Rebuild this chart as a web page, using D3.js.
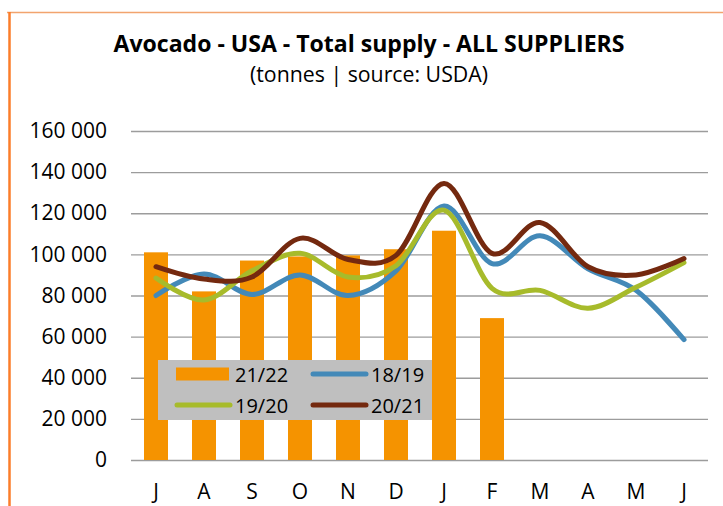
<!DOCTYPE html>
<html>
<head>
<meta charset="utf-8">
<script src="https://cdn.jsdelivr.net/npm/d3@7"></script>
<style>
  html, body { margin: 0; padding: 0; background: #fff; }
  svg { display: block; font-family: "Open Sans", "Liberation Sans", sans-serif; }
</style>
</head>
<body>
<svg id="chart" width="723" height="506"></svg>
<script>
// ---- data ----
const months = ["J", "A", "S", "O", "N", "D", "J", "F", "M", "A", "M", "J"];
const yTicks = [0, 20000, 40000, 60000, 80000, 100000, 120000, 140000, 160000];
const s2122 = [101000, 82000, 97000, 99000, 99500, 102500, 111500, 69000];
const s1819 = [80000, 90500, 80500, 90000, 80000, 92000, 123500, 95500, 109000, 93000, 82500, 58500];
const s1920 = [88500, 77800, 92000, 100500, 89000, 94500, 121500, 83500, 82500, 73800, 84000, 96000];
const s2021 = [94000, 88000, 89000, 107800, 97500, 99500, 134500, 100500, 115500, 94000, 90000, 98000];
const seriesNames = ["21/22", "18/19", "19/20", "20/21"];

const colors = { "21/22": "#F59300", "18/19": "#4389B8", "19/20": "#A7BB2B", "20/21": "#74290F" };

const svg = d3.select("#chart");

// frame
svg.append("line").attr("x1", 7).attr("x2", 723).attr("y1", 12.5).attr("y2", 12.5)
  .attr("stroke", "#F2A46E").attr("stroke-width", 1.5);
svg.append("line").attr("x1", 9.5).attr("x2", 9.5).attr("y1", 12).attr("y2", 506)
  .attr("stroke", "#FB7D2A").attr("stroke-width", 2.5);

// titles
svg.append("text").attr("x", 369).attr("y", 52).attr("text-anchor", "middle")
  .attr("font-size", 24).attr("font-weight", "bold").attr("fill", "#000")
  .attr("textLength", 511).attr("lengthAdjust", "spacingAndGlyphs")
  .text("Avocado - USA - Total supply - ALL SUPPLIERS");
svg.append("text").attr("x", 369).attr("y", 81.5).attr("text-anchor", "middle")
  .attr("font-size", 21).attr("fill", "#000")
  .attr("textLength", 238).attr("lengthAdjust", "spacingAndGlyphs")
  .text("(tonnes | source: USDA)");

// scales
const x = d3.scaleBand().domain(d3.range(months.length)).range([132, 708])
  .paddingInner(0.5).paddingOuter(0.25);
const cx = i => x(i) + x.bandwidth() / 2;
const y = d3.scaleLinear().domain([0, 160000]).range([460, 131]);

// y axis with gridlines
const fmt = v => d3.format(",")(v).replace(/,/g, " ");
const yAxis = svg.append("g").attr("transform", "translate(131,0)")
  .call(d3.axisLeft(y).tickValues(yTicks).tickSize(-577).tickPadding(24).tickFormat(fmt));
yAxis.select(".domain").remove();
yAxis.selectAll(".tick line").attr("stroke", "#9c9c9c").attr("stroke-width", 1.3);
yAxis.selectAll(".tick text").attr("font-size", 21).attr("fill", "#000")
  .attr("font-family", "Open Sans, sans-serif");

// x axis
const xAxis = svg.append("g").attr("transform", "translate(0,460)")
  .call(d3.axisBottom(x).tickSize(0).tickPadding(24).tickFormat(i => months[i]));
xAxis.select(".domain").remove();
xAxis.selectAll(".tick text").attr("font-size", 21).attr("fill", "#000")
  .attr("font-family", "Open Sans, sans-serif");

// bars
svg.append("g").selectAll("rect").data(s2122).join("rect")
  .attr("x", (d, i) => x(i)).attr("width", x.bandwidth())
  .attr("y", d => y(d)).attr("height", d => y(0) - y(d))
  .attr("fill", colors["21/22"]);

// lines
const line = d3.line().x((d, i) => cx(i)).y(d => y(d)).curve(d3.curveCatmullRom.alpha(0));
[["18/19", s1819], ["19/20", s1920], ["20/21", s2021]].forEach(([name, vals]) => {
  svg.append("path").datum(vals).attr("d", line)
    .attr("fill", "none").attr("stroke", colors[name]).attr("stroke-width", 5)
    .attr("stroke-linecap", "round").attr("stroke-linejoin", "round");
});

// legend
const lg = svg.append("g");
lg.append("rect").attr("x", 158).attr("y", 360).attr("width", 274).attr("height", 60).attr("fill", "#BFBFBF");
const items = [
  { name: seriesNames[0], type: "bar", x: 176, y: 374 },
  { name: seriesNames[1], type: "line", x: 312, y: 374 },
  { name: seriesNames[2], type: "line", x: 176, y: 405 },
  { name: seriesNames[3], type: "line", x: 312, y: 405 }
];
items.forEach(it => {
  if (it.type === "bar") {
    lg.append("rect").attr("x", it.x).attr("y", it.y - 6.5).attr("width", 53).attr("height", 13)
      .attr("fill", colors[it.name]);
  } else {
    lg.append("line").attr("x1", it.x + 1).attr("x2", it.x + 54).attr("y1", it.y).attr("y2", it.y)
      .attr("stroke", colors[it.name]).attr("stroke-width", 5).attr("stroke-linecap", "round");
  }
  lg.append("text").attr("x", it.x + 59).attr("y", it.y + 7.5).attr("font-size", 20).attr("fill", "#000")
    .text(it.name);
});
</script>
</body>
</html>
